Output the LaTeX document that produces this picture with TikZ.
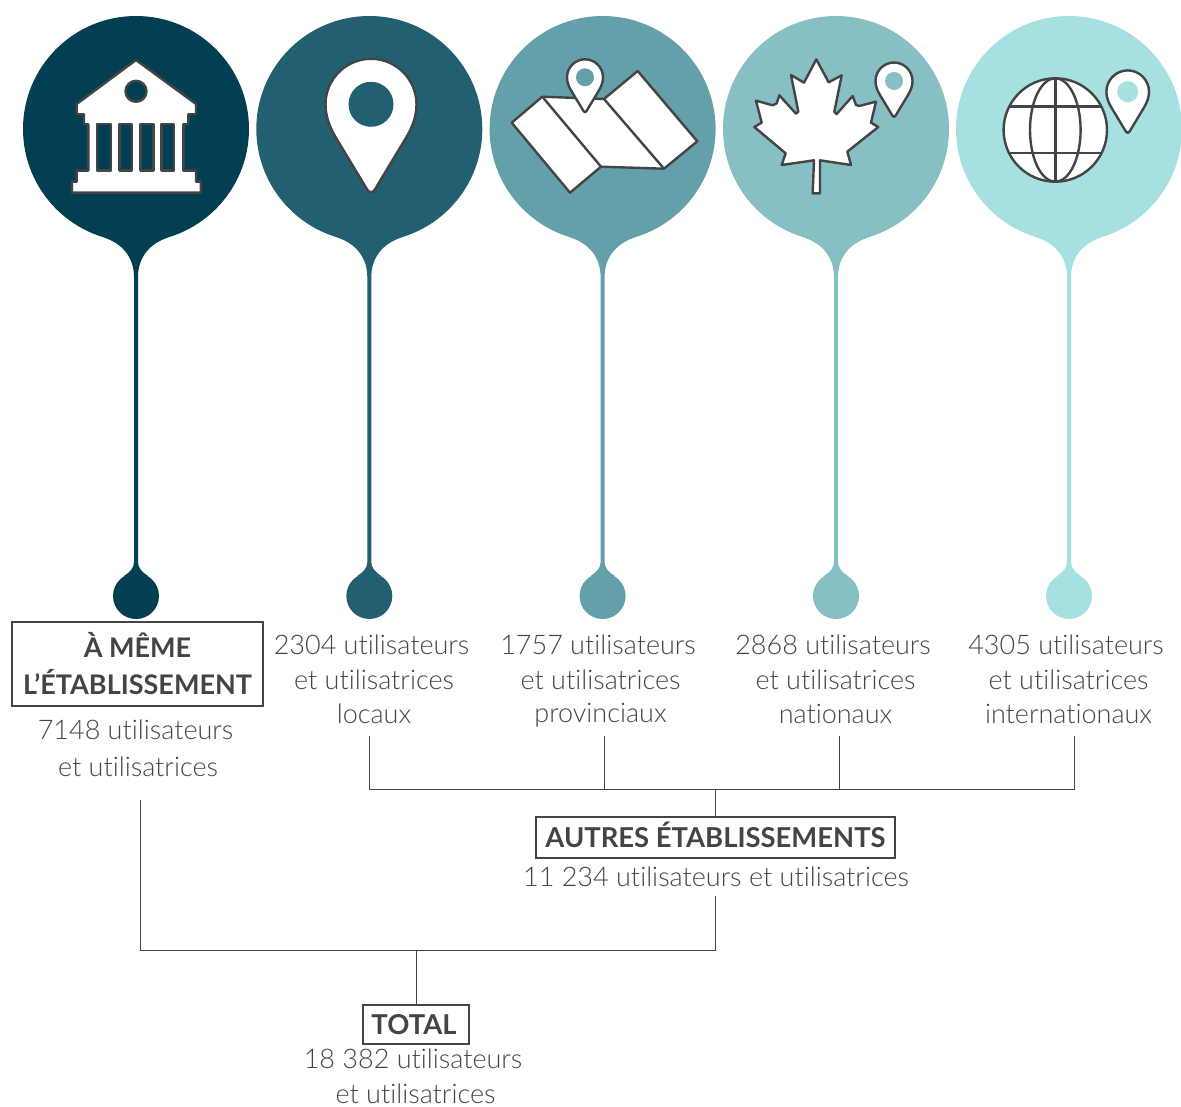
\documentclass[tikz,border=0pt]{standalone}
\usepackage{fontspec}
\setmainfont[Ligatures=NoCommon]{Lato Light}
\newfontfamily\boldtext[Ligatures=NoCommon]{Lato Bold}
\definecolor{ink}{HTML}{444444}
\definecolor{cA}{HTML}{023F52}
\definecolor{cB}{HTML}{225F70}
\definecolor{cC}{HTML}{64A0AA}
\definecolor{cD}{HTML}{86BFC4}
\definecolor{cE}{HTML}{A6E0E1}
\newcommand\nudge{\hspace*{5pt}}
% bubble: centre x, colour
\newcommand\bubble[2]{%
  \begin{scope}[shift={(#1,0)}]
    \fill[#2] (0,129) circle[radius=113pt];
    \fill[#2] (-32.7,237.3) .. controls (-13,243.5) and (-2,258) .. (-2,277)
      -- (-2,562) .. controls (-2,568) and (-6,572) .. (-12,576)
      -- (12,576) .. controls (6,572) and (2,568) .. (2,562)
      -- (2,277) .. controls (2,258) and (13,243.5) .. (32.7,237.3) -- cycle;
    \fill[#2] (0,596) circle[radius=23pt];
  \end{scope}}
% pin: cx, cy, r, inner r, colour
\newcommand\pin[5]{%
  \begin{scope}[shift={(#1,#2)},x=#3pt,y=-#3pt]
    \filldraw[icon] (0.08,1.88) -- (0.78,0.72)
      .. controls (0.92,0.48) and (1,0.25) .. (1,0)
      .. controls (1,-0.55) and (0.55,-1) .. (0,-1)
      .. controls (-0.55,-1) and (-1,-0.55) .. (-1,0)
      .. controls (-1,0.25) and (-0.92,0.48) .. (-0.78,0.72)
      -- (-0.08,1.88) .. controls (-0.03,1.95) and (0.03,1.95) .. (0.08,1.88) -- cycle;
  \end{scope}
  \fill[#5] (#1,#2) circle[radius=#4pt];}
\tikzset{
  icon/.style={fill=white,draw=ink,line width=2.4pt,line join=round},
  body/.style={text=ink,font=\fontsize{27}{35}\selectfont,align=center,inner sep=0pt},
  titlebox/.style={draw=ink,line width=2.4pt,text=ink,font=\boldtext\fontsize{27.4}{37}\selectfont,align=center,inner sep=0pt},
  link/.style={draw=ink,line width=1pt}
}
\begin{document}
\begin{tikzpicture}[x=1pt,y=-1pt]
\useasboundingbox (0,0) rectangle (1181,1107);
\bubble{136}{cA}
\bubble{369.3}{cB}
\bubble{602.6}{cC}
\bubble{836}{cD}
\bubble{1069}{cE}
% building
\filldraw[icon] (136,60) -- (196,104) -- (196,114.3) -- (188.3,114.3) -- (188.3,124.3) -- (183.3,124.3) -- (183.3,170.7) -- (196,170.7) -- (196,181.7) -- (200.7,181.7) -- (200.7,192.7) -- (72,192.7) -- (72,181.7) -- (76.7,181.7) -- (76.7,170.7) -- (88.3,170.7) -- (88.3,124.3) -- (84,124.3) -- (84,114.3) -- (76.7,114.3) -- (76.7,104) -- cycle;
\filldraw[icon,fill=cA] (136,91.3) circle[radius=10.5pt];
\foreach \xa/\xb in {96.7/111,119.3/132,140.3/153.3,161.3/174}
  \filldraw[icon,fill=cA] (\xa,124.3) rectangle (\xb,170.7);
% big pin
\pin{371}{104.3}{45.5}{22.5}{cB}
% map
\filldraw[icon] (542.3,96.7) -- (511.7,122.7) -- (570,192.7) -- (601,166.7) -- (664,168.7) -- (697.3,141.3) -- (637.7,71) -- (604,99) -- cycle;
\draw[icon,fill=none] (542.3,96.7) -- (601,166.7) (604,99) -- (664,168.7);
\pin{585}{77.3}{18}{9}{cC}
% maple leaf
\begin{scope}[shift={(490,0)},x=0.33333pt,y=-0.33333pt]
\filldraw[icon] (979,178) -- (1016,247) -- (1055,226) -- (1033,335) -- (1040,342) -- (1088,288) -- (1098,315) -- (1108,318) -- (1158,305) -- (1143,368) -- (1165,381) -- (1072,455) -- (1083,495) -- (990,481) -- (990,580) -- (968,580) -- (972,481) -- (875,495) -- (887,460) -- (793,381) -- (815,368) -- (798,302) -- (848,316) -- (860,310) -- (868,286) -- (918,341) -- (925,335) -- (903,225) -- (942,248) -- cycle;
\end{scope}
\pin{894}{81}{18.5}{9}{cD}
% globe
\filldraw[icon] (1055.3,130) circle[radius=51.7pt];
\draw[icon,fill=none] (1055.3,130) ellipse[x radius=25.3pt,y radius=51.7pt];
\draw[icon,fill=none] (1055.3,78.3) -- (1055.3,181.7) (1009.3,106.7) -- (1101.3,106.7) (1009.3,153.3) -- (1101.3,153.3);
\pin{1127.7}{91.7}{21.3}{10.5}{cE}
% labels
\node[titlebox,font=\boldtext\fontsize{27}{37}\selectfont,minimum width=251pt,minimum height=84pt] (meme) at (137.5,664) {À MÊME\\L’ÉTABLISSEMENT};
\node[body,font=\fontsize{27}{37}\selectfont] (memeT) at (138,748) {7148 utilisateurs\nudge\\et utilisatrices};
\node[body] (loc) at (374,679.5) {2304 utilisateurs\nudge\\et utilisatrices\\[-0.5pt]locaux};
\node[body] (prov) at (600.5,681) {1757 utilisateurs\nudge\\et utilisatrices\\[-2.5pt]provinciaux};
\node[body] (nat) at (835.5,679.5) {2868 utilisateurs\nudge\\et utilisatrices\\[-0.5pt]nationaux};
\node[body] (inter) at (1068.5,679.5) {4305 utilisateurs\nudge\\et utilisatrices\\[-0.5pt]internationaux};
\node[titlebox,minimum width=359pt,minimum height=41pt,text height=20pt,text depth=0pt] (autres) at (715.5,837.5) {AUTRES ÉTABLISSEMENTS};
\node[body] (autresT) at (716,877) {11 234 utilisateurs et utilisatrices};
\node[titlebox,minimum width=106pt,minimum height=39pt] (total) at (416,1024.5) {\hspace*{-3pt}TOTAL\hspace*{1pt}};
\node[body] (totalT) at (415.5,1076.5) {18 382 utilisateurs\nudge\\et utilisatrices};
% connectors
\coordinate (locEnd) at (369.5,736);
\coordinate (provEnd) at (604,736);
\coordinate (natEnd) at (839,736);
\coordinate (interEnd) at (1074.5,736);
\coordinate (memeEnd) at (140,800);
\coordinate (autresEnd) at (715.8,896);
\draw[link] (locEnd) |- (interEnd |- 0,789.5) -- (interEnd);
\draw[link] (provEnd) -- (provEnd |- 0,789.5);
\draw[link] (natEnd) -- (natEnd |- 0,789.5);
\draw[link] (autres.north -| autresEnd) -- (autresEnd |- 0,789.5);
\draw[link] (memeEnd) |- (autresEnd |- 0,950) -- (autresEnd);
\draw[link] (total.north) -- (total.north |- 0,950);
\end{tikzpicture}
\end{document}
